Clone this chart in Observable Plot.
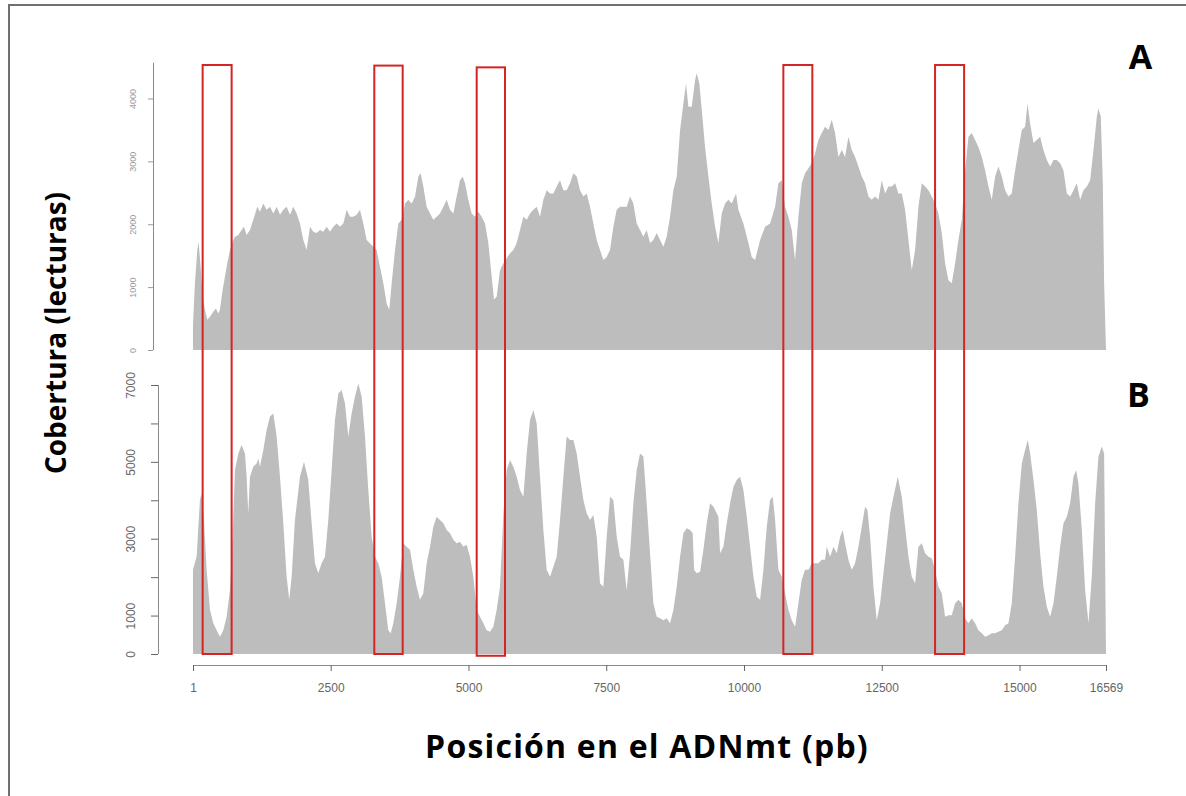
<!DOCTYPE html>
<html><head><meta charset="utf-8">
<script src="https://cdn.jsdelivr.net/npm/d3@7"></script>
<script src="https://cdn.jsdelivr.net/npm/@observablehq/plot@0.6"></script>
<style>
html,body{margin:0;padding:0;background:#fff;}
#wrap{position:relative;width:1186px;height:796px;overflow:hidden;background:#fff;}
#frameline{position:absolute;left:8px;top:4px;width:1300px;height:900px;border-top:2px solid #707070;border-left:2px solid #707070;}
.panel{position:absolute;left:0;}
.panel svg{overflow:visible;display:block;}
#ytitle{position:absolute;left:55px;top:333px;transform:translate(-50%,-50%) rotate(-90deg);font:bold 28px "Open Sans";white-space:nowrap;color:#000;}
#xtitle{position:absolute;left:647px;top:745px;transform:translate(-50%,-50%);font:bold 32px "Open Sans";letter-spacing:1.2px;white-space:nowrap;color:#000;}
</style></head>
<body>
<div id="wrap">
  <div id="frameline"></div>
  <div id="ytitle">Cobertura (lecturas)</div>
  <div id="xtitle">Posición en el ADNmt (pb)</div>
  <div id="pa" class="panel" style="top:40px"></div>
  <div id="pb" class="panel" style="top:365px"></div>
  <div id="pc" class="panel" style="top:40px"></div>
</div>
<script>
// ---- Panel A coverage (position in bp, reads) ----
const posA = [1,36,79,103,139,175,218,260,309,369,
417,460,490,538,581,623,672,720,762,823,
883,926,974,1035,1095,1168,1216,1277,1337,1398,
1458,1519,1579,1640,1700,1761,1821,1882,1942,2003,
2063,2124,2184,2245,2305,2366,2426,2487,2547,2608,
2668,2729,2789,2850,2910,2971,3031,3092,3152,3243,
3334,3394,3455,3515,3563,3606,3667,3727,3788,3848,
3909,3969,4030,4090,4132,4181,4241,4302,4362,4423,
4483,4544,4604,4665,4725,4786,4846,4894,4937,4997,
5058,5118,5179,5239,5300,5360,5421,5463,5512,5572,
5633,5693,5754,5814,5875,5935,5996,6056,6117,6177,
6238,6298,6359,6419,6480,6540,6601,6661,6722,6782,
6843,6903,6964,7024,7085,7145,7206,7266,7327,7387,
7448,7508,7569,7629,7690,7750,7871,7932,7992,8053,
8113,8174,8234,8295,8355,8416,8476,8537,8597,8658,
8718,8779,8840,8900,8948,8991,9051,9112,9142,9190,
9233,9293,9354,9414,9475,9535,9596,9656,9717,9777,
9856,9898,9989,10080,10140,10201,10292,10382,10473,10564,
10624,10685,10745,10806,10866,10927,10987,11048,11108,11169,
11229,11290,11350,11411,11471,11532,11592,11653,11713,11774,
11834,11895,11955,12016,12076,12137,12197,12258,12318,12379,
12439,12500,12560,12621,12681,12742,12802,12863,12923,12984,
13044,13105,13165,13226,13286,13347,13407,13468,13528,13589,
13649,13710,13770,13831,13891,13952,14012,14073,14133,14194,
14254,14315,14375,14436,14496,14557,14617,14678,14738,14799,
14859,14920,14980,15041,15101,15144,15192,15253,15313,15374,
15434,15495,15555,15616,15676,15737,15797,15858,15918,15979,
16039,16100,16160,16221,16281,16342,16402,16432,16475,16511,
16535,16569];
const covA = [400,1060,1590,1720,1325,850,640,480,530,610,
660,580,640,950,1170,1380,1590,1720,1800,1830,
1910,1960,1830,1910,2070,2280,2200,2330,2230,2280,
2170,2280,2150,2230,2280,2150,2280,2170,2010,1750,
1590,1960,1880,1860,1910,1880,1960,1880,1960,2010,
1960,2010,2230,2120,2120,2150,2230,2010,1750,1670,
1590,1325,1060,740,640,1060,1590,2010,2070,2330,
2390,2330,2440,2760,2810,2600,2280,2170,2070,2120,
2170,2280,2390,2230,2170,2440,2700,2760,2650,2390,
2170,2120,2200,2120,2010,1700,1170,800,850,1270,
1380,1460,1540,1590,1700,1910,2120,2070,2170,2230,
2280,2120,2390,2540,2490,2490,2600,2700,2540,2540,
2650,2810,2760,2540,2440,2490,2280,2010,1750,1590,
1430,1480,1590,1960,2230,2280,2280,2440,2330,2010,
1910,1800,1910,1700,1750,1860,1750,1640,1800,2120,
2540,2760,3500,3920,4240,3870,3870,4290,4400,4240,
3820,3230,2760,2330,1960,1700,2170,2330,2390,2330,
2490,2230,2010,1700,1480,1430,1750,1960,2010,2280,
2650,2700,2280,2120,1910,1430,2120,2650,2810,2890,
2970,3130,3340,3450,3550,3500,3660,3450,3070,3180,
3070,3390,3180,3070,2920,2760,2650,2440,2390,2440,
2390,2700,2490,2600,2600,2650,2490,2490,2230,1750,
1270,1590,2280,2650,2600,2540,2440,2330,2170,1860,
1380,1110,1060,1380,1750,2070,2860,3390,3450,3340,
3230,3070,2860,2600,2390,2760,2920,2760,2540,2440,
2490,2860,3180,3500,3550,3920,3600,3290,3340,3390,
3180,3020,2920,3020,3020,2970,2860,2490,2440,2540,
2650,2390,2540,2600,2700,3180,3710,3840,3710,2650,
1060,0];

// ---- Panel B coverage ----
const posB = [1,67,127,157,200,248,309,369,430,490,
551,611,672,720,762,823,883,944,974,1004,
1035,1095,1156,1186,1216,1277,1337,1398,1458,1519,
1579,1640,1700,1748,1791,1851,1942,2015,2093,2154,
2214,2275,2335,2396,2456,2517,2577,2638,2698,2759,
2819,2880,2940,3001,3061,3122,3182,3243,3303,3364,
3424,3485,3545,3588,3636,3697,3757,3818,3878,3939,
3999,4060,4120,4181,4241,4302,4362,4423,4483,4544,
4604,4665,4725,4786,4846,4907,4967,5028,5088,5149,
5209,5270,5330,5391,5451,5512,5572,5633,5693,5754,
5814,5875,5935,5996,6056,6117,6177,6238,6298,6359,
6419,6480,6540,6601,6661,6722,6782,6843,6903,6964,
7024,7085,7145,7206,7266,7327,7387,7448,7508,7569,
7629,7690,7750,7811,7871,7932,7992,8053,8113,8174,
8234,8295,8355,8416,8476,8537,8597,8658,
8719,8779,8840,8900,8961,9021,9069,9094,9142,9203,
9263,9324,9384,9445,9505,9535,9566,9626,9687,9747,
9808,9868,9929,9989,10050,10110,10171,10231,10292,10352,
10413,10473,10521,10564,10624,10685,10745,10806,10866,10927,
10987,11048,11108,11169,11229,11290,11350,11411,11471,11502,
11562,11623,11683,11744,11792,11834,11895,11955,12016,12076,
12137,12197,12240,12288,12349,12409,12470,12530,12591,12651,
12712,12790,12863,12923,12984,13044,13105,13165,13226,13286,
13347,13407,13468,13528,13589,13649,13710,13770,13831,13891,
13952,14012,14073,14133,14194,14254,14315,14375,14436,14496,
14557,14617,14678,14738,14799,14859,14920,14980,15041,15101,
15150,15192,15253,15313,15374,15434,15495,15555,15616,15676,
15737,15797,15858,15918,15979,16027,16069,16130,16190,16251,
16311,16372,16432,16493,16535,16569];
const covB = [2200,2530,4010,4180,3490,2190,1150,800,620,450,
620,970,1670,3050,4790,5220,5440,5220,4610,3660,
4610,4870,4960,5090,4870,5310,5830,6180,6260,5660,
4610,3400,2010,1410,2010,3490,4610,5000,4530,3400,
2360,2100,2360,2530,3490,4790,6090,6780,6870,6520,
5660,6260,6700,7040,6700,5660,4270,3050,2530,2360,
2010,1320,620,540,800,1320,2010,2880,2790,2710,
2190,1750,1410,1580,2360,2790,3310,3570,3490,3400,
3230,3140,2970,2880,2920,2790,2840,2530,2010,1150,
970,800,620,580,710,1150,1750,3660,4790,5050,
4870,4610,4270,4090,5220,6090,6350,6000,4610,3230,
2190,2010,2270,2530,3490,4610,5660,5570,5570,5220,
4610,4010,3660,3490,3620,3050,1840,1750,3050,4090,
4010,3050,2530,2450,1660,2620,3920,4790,5220,5140,
3920,2620,1320,970,930,880,930,800,
1150,1750,2530,3140,3270,3230,3140,2190,2100,2140,
2710,3400,3920,3830,3660,3570,2620,2790,3400,3920,
4350,4530,4610,4270,3570,2790,2010,1490,1410,2190,
3310,4010,4090,3490,2190,2010,1580,1150,880,710,
1320,1930,2190,2190,2360,2360,2360,2450,2450,2790,
2530,2790,2620,3050,3230,2880,2450,2190,2360,2790,
3310,3830,3750,3050,1750,880,1320,2100,2880,3660,
4090,4610,4090,3310,2530,2010,1840,2790,2880,2620,
2530,2490,2190,1750,1580,970,1010,1010,1320,1410,
1320,930,800,930,800,620,540,450,490,540,
540,580,620,750,800,1320,2530,3920,4960,5310,
5570,5220,4530,3750,2620,1750,1230,970,1320,2010,
2790,3400,3570,3920,4610,4790,4440,3230,1670,800,
2010,3920,5140,5400,5220,0];

// ---- highlighted regions (red boxes spanning both panels) ----
// vertical extent as a fraction of the figure band (0 = panel B baseline, 1 = box top)
const boxStart = [176, 3291, 5149, 10714, 13467];
const boxEnd   = [702, 3806, 5663, 11240, 13994];
const boxTop    = [1, 0.999, 0.996, 1, 1];
const boxBottom = [0, 0, -0.003, 0, 0];

// ---- axes ----
const xTicks = [1, 2500, 5000, 7500, 10000, 12500, 15000, 16569];
const yTicksA = [0, 1000, 2000, 3000, 4000];
const yTicksB = [0, 1000, 2000, 3000, 4000, 5000, 6000, 7000];
const yLabelsB = [0, 1000, 3000, 5000, 7000];

const dataA = posA.map((p, i) => ({pos: p, cov: covA[i]}));
const dataB = posB.map((p, i) => ({pos: p, cov: covB[i]}));
const boxes = boxStart.map((s, i) => ({start: s, end: boxEnd[i], top: boxTop[i], bottom: boxBottom[i]}));

const RED = "#d42424";
const GRAY = "#bdbdbd";
const xDomain = [1, 16569];
const W = 1186;
const common = {width: W, marginLeft: 193, marginRight: 80,
  style: {background: "transparent", overflow: "visible"}};

const plotA = Plot.plot({
  ...common, height: 325, marginTop: 22, marginBottom: 15,
  x: {domain: xDomain, axis: null},
  y: {domain: [0, 4580], axis: null},
  marks: [
    Plot.areaY(dataA, {x: "pos", y: "cov", fill: GRAY}),
    Plot.ruleX([1], {y1: () => 0, y2: () => 4570, dx: -40, stroke: "#8a8a8a"}),
    Plot.axisY(yTicksA, {anchor: "left", dx: -40, tickSize: 5, tickRotate: -90, tickPadding: 13,
      fontSize: 9, fontFamily: "Liberation Sans, Arial, sans-serif", color: "#9a9a9a", label: null,
      tickFormat: d => String(d)}),
    Plot.text(["A"], {frameAnchor: "top-right", text: d => d, dx: 34, dy: -4, fontSize: 34,
      fontWeight: "bold", fontFamily: "Open Sans", textAnchor: "middle", lineAnchor: "middle", fill: "#000"})
  ]
});
document.getElementById("pa").appendChild(plotA);

const plotB = Plot.plot({
  ...common, height: 339, marginTop: 20, marginBottom: 50,
  x: {domain: xDomain, axis: null},
  y: {domain: [0, 7000], axis: null},
  marks: [
    Plot.areaY(dataB, {x: "pos", y: "cov", fill: GRAY}),
    Plot.ruleX([1], {y1: () => 0, y2: () => 7000, dx: -35, stroke: "#8a8a8a"}),
    Plot.axisY(yTicksB, {anchor: "left", dx: -35, tickSize: 7, tickRotate: -90, tickPadding: 17,
      fontSize: 12, fontFamily: "Liberation Sans, Arial, sans-serif", color: "#666", label: null,
      tickFormat: d => yLabelsB.includes(d) ? String(d) : ""}),
    Plot.ruleY([0], {x1: () => 1, x2: () => 16569, dy: 11, stroke: "#8a8a8a"}),
    Plot.axisX(xTicks, {anchor: "bottom", dy: 11, tickSize: 6, tickPadding: 12, fontSize: 12,
      fontFamily: "Liberation Sans, Arial, sans-serif", color: "#666", label: null,
      tickFormat: d => String(d)}),
    Plot.text(["B"], {frameAnchor: "top-right", text: d => d, dx: 32, dy: 11, fontSize: 34,
      fontWeight: "bold", fontFamily: "Open Sans", textAnchor: "middle", lineAnchor: "middle", fill: "#000"})
  ]
});
document.getElementById("pb").appendChild(plotB);

// overlay spanning both panels: the red boxes
const plotC = Plot.plot({
  ...common, height: 664, marginTop: 25, marginBottom: 50,
  x: {domain: xDomain, axis: null},
  y: {domain: [0, 1], axis: null},
  marks: [
    Plot.rect(boxes, {x1: "start", x2: "end", y1: "bottom", y2: "top",
      fill: "none", stroke: RED, strokeWidth: 2})
  ]
});
document.getElementById("pc").appendChild(plotC);
</script>
</body></html>
